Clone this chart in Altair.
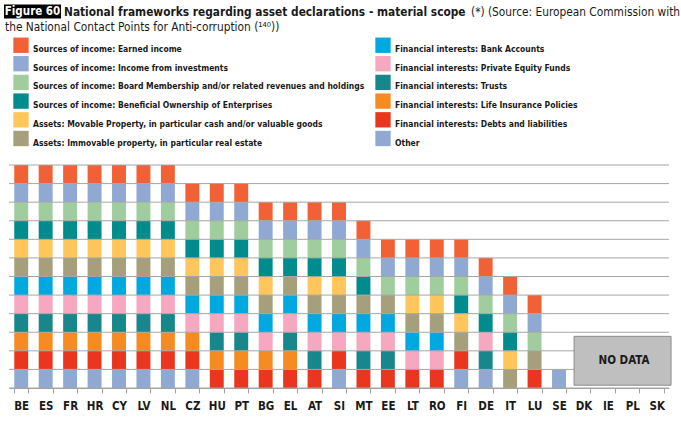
import altair as alt
import pandas as pd

FONT = "DejaVu Sans Condensed"

countries = ["BE", "ES", "FR", "HR", "CY", "LV", "NL", "CZ", "HU", "PT", "BG", "EL", "AT", "SI",
             "MT", "EE", "LT", "RO", "FI", "DE", "IT", "LU", "SE", "DK", "IE", "PL", "SK"]

categories = [
    "Sources of income: Earned income",
    "Sources of income: Income from investments",
    "Sources of income: Board Membership and/or related revenues and holdings",
    "Sources of income: Beneficial Ownership of Enterprises",
    "Assets: Movable Property, in particular cash and/or valuable goods",
    "Assets: Immovable property, in particular real estate",
    "Financial interests: Bank Accounts",
    "Financial interests: Private Equity Funds",
    "Financial interests: Trusts",
    "Financial interests: Life Insurance Policies",
    "Financial interests: Debts and liabilities",
    "Other",
]
codes = ["EI", "II", "BM", "BO", "MP", "IP", "BA", "PE", "TR", "LI", "DL", "OT"]
colors = ["#F26035", "#8FA9D3", "#9FCD9D", "#008B8C", "#FFC65C", "#A5A07B",
          "#00A8E0", "#F5A8C0", "#17878C", "#F68B22", "#EA361E", "#8FA9D3"]

ALL = codes
scope = {
    "BE": ALL, "ES": ALL, "FR": ALL, "HR": ALL, "CY": ALL, "LV": ALL, "NL": ALL,
    "CZ": ["EI", "II", "BM", "BO", "MP", "IP", "BA", "PE", "LI", "DL", "OT"],
    "HU": ["EI", "II", "BM", "BO", "MP", "IP", "BA", "PE", "TR", "LI", "DL"],
    "PT": ["EI", "II", "BM", "BO", "MP", "IP", "BA", "PE", "TR", "LI", "DL"],
    "BG": ["EI", "II", "BM", "BO", "MP", "IP", "BA", "PE", "LI", "DL"],
    "EL": ["EI", "II", "BM", "BO", "IP", "BA", "PE", "TR", "LI", "DL"],
    "AT": ["EI", "II", "BM", "BO", "MP", "IP", "BA", "PE", "TR", "DL"],
    "SI": ["EI", "II", "BM", "BO", "MP", "IP", "BA", "PE", "DL", "OT"],
    "MT": ["EI", "II", "BM", "BO", "IP", "BA", "PE", "TR", "DL"],
    "EE": ["EI", "II", "BM", "IP", "BA", "PE", "TR", "DL"],
    "LT": ["EI", "II", "BM", "MP", "IP", "BA", "PE", "DL"],
    "RO": ["EI", "II", "BM", "MP", "IP", "BA", "PE", "DL"],
    "FI": ["EI", "II", "BM", "BO", "MP", "IP", "DL", "OT"],
    "DE": ["EI", "II", "BM", "BO", "PE", "TR", "OT"],
    "IT": ["EI", "II", "BM", "BO", "MP", "IP"],
    "LU": ["EI", "II", "BM", "IP", "DL"],
    "SE": ["OT"],
    "DK": [], "IE": [], "PL": [], "SK": [],
}
no_data = ["DK", "SK"]
grid_values = list(range(13))

rows = []
for c in countries:
    for code in scope[c]:
        i = codes.index(code)
        rows.append({"country": c, "label": categories[i], "one": 1, "rank": len(codes) - 1 - i})
df = pd.DataFrame(rows)

W, H = 660, 223
xscale = alt.Scale(domain=countries, paddingInner=0.43, paddingOuter=0.215)
yscale = alt.Scale(domain=[0, 12], nice=False, zero=True)

bars = alt.Chart(df).mark_bar().encode(
    x=alt.X("country:N", sort=countries, scale=xscale,
            axis=alt.Axis(title=None, labelAngle=0, labelFont=FONT, labelFontWeight="bold",
                          labelFontSize=11.5, labelColor="#1a1a1a", tickBand="extent",
                          tickColor="#A0A0A0", tickSize=5, domainColor="#A0A0A0",
                          labelPadding=7, labelBaseline="top", grid=False)),
    y=alt.Y("one:Q", stack="zero", scale=yscale, axis=None),
    color=alt.Color("label:N", scale=alt.Scale(domain=categories, range=colors),
                    legend=alt.Legend(title=None, orient="none", legendX=4, legendY=-128,
                                      columns=2, symbolType="square", symbolSize=235,
                                      symbolStrokeWidth=0, symbolOpacity=1,
                                      labelFont=FONT, labelFontSize=8.5, labelFontWeight="bold",
                                      labelColor="#1a1a1a", labelLimit=500, labelBaseline="top",
                                      labelOffset=4, rowPadding=1.7, columnPadding=10, padding=0)),
    order=alt.Order("rank:Q"),
)

grid = alt.Chart(pd.DataFrame({"v": grid_values})).mark_rule(color="#A6A6A6", strokeWidth=1).encode(
    y=alt.Y("v:Q", scale=yscale, axis=None),
)

nd = pd.DataFrame({"country": [no_data[0]], "country_end": [no_data[1]], "lo": [0.15], "hi": [2.78], "mid": [1.45]})
box = alt.Chart(nd).mark_rect(fill="#BFBFBF", stroke="#8C8C8C", strokeWidth=1,
                              xOffset=-2.4, x2Offset=7.3).encode(
    x=alt.X("country:N", scale=xscale, bandPosition=0),
    x2=alt.X2("country_end:N", bandPosition=1),
    y=alt.Y("lo:Q", scale=yscale, axis=None),
    y2="hi:Q",
)
nd_text = alt.Chart(nd).mark_text(font=FONT, fontWeight="bold", fontSize=11.5, color="#1a1a1a",
                                  align="center", baseline="middle").encode(
    x=alt.value(615),
    y=alt.Y("mid:Q", scale=yscale, axis=None),
    text=alt.value("NO DATA"),
)

TS = 11.8
one = pd.DataFrame({"a": [0]})
fig_box = alt.Chart(one).mark_rect(fill="#000000").encode(
    x=alt.value(-5), x2=alt.value(52), y=alt.value(-160.5), y2=alt.value(-146.5))
fig_txt = alt.Chart(one).mark_text(font=FONT, fontWeight="bold", fontSize=11.5, color="white",
                                   align="center", baseline="middle").encode(
    x=alt.value(23.5), y=alt.value(-153.3), text=alt.value("Figure 60"))
t_bold = alt.Chart(one).mark_text(font=FONT, fontWeight="bold", fontSize=TS, color="#1a1a1a",
                                  align="left", baseline="middle").encode(
    x=alt.value(55), y=alt.value(-153.3),
    text=alt.value("National frameworks regarding asset declarations - material scope"))
t_reg = alt.Chart(one).mark_text(font=FONT, fontSize=TS, color="#1a1a1a",
                                 align="left", baseline="middle").encode(
    x=alt.value(462), y=alt.value(-153.3),
    text=alt.value("(*) (Source: European Commission with"))
t_line2 = alt.Chart(one).mark_text(font=FONT, fontSize=TS, color="#1a1a1a",
                                   align="left", baseline="middle").encode(
    x=alt.value(-4), y=alt.value(-138.5),
    text=alt.value("the National Contact Points for Anti-corruption (¹⁴⁰))"))

chart = alt.layer(bars, grid, box, nd_text, fig_box, fig_txt, t_bold, t_reg, t_line2).properties(
    width=W, height=H,
    background="white",
    autosize=alt.AutoSizeParams(type="none"),
    padding={"left": 9, "top": 165, "right": 12, "bottom": 33},
).configure_view(strokeWidth=0, strokeOpacity=0)

chart.save("out.html", embed_options={"renderer": "svg", "actions": False})
